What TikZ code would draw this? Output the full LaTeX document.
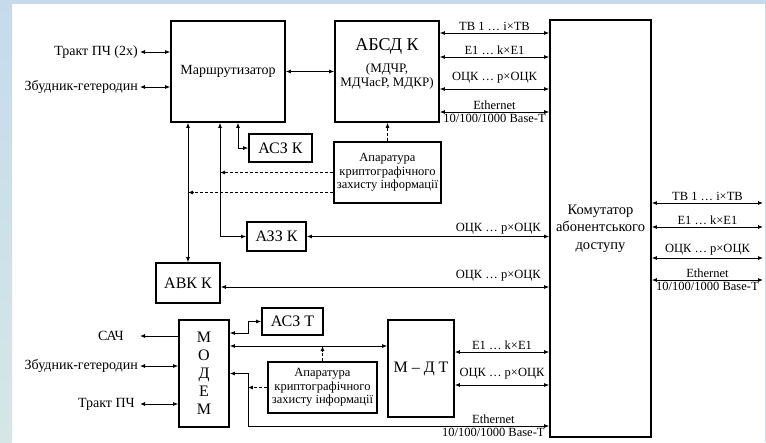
\documentclass[tikz,border=0pt]{standalone}
\usepackage{fontspec}
\setmainfont{Liberation Serif}
\usetikzlibrary{positioning, arrows.meta, calc}
\definecolor{bandblue}{RGB}{197,219,236}
\definecolor{bandgreen}{RGB}{213,230,229}

\begin{document}
\begin{tikzpicture}[x=1pt, y=-1pt,
  box/.style={rectangle, draw, line width=1.8pt, align=center, inner sep=1pt},
  lbl/.style={font=\fontsize{12.5}{13}\selectfont, inner sep=2pt},
  side/.style={font=\fontsize{14}{16}\selectfont, anchor=east, inner sep=2pt},
  big/.style={font=\fontsize{16}{18}\selectfont},
  crypt/.style={box, font=\fontsize{12.5}{13.5}\selectfont},
  dbl/.style={{Latex[length=5pt,width=4pt]}-{Latex[length=5pt,width=4pt]}, line width=0.8pt},
  arr/.style={-{Latex[length=5pt,width=4pt]}, line width=0.8pt},
  dsh/.style={-{Latex[length=5pt,width=4pt]}, line width=0.8pt, dash pattern=on 3pt off 2pt}
]
  % frame
  \useasboundingbox (0,0) rectangle (766,442);
  \fill[white] (0,0) rectangle (766,442);
  \fill[bandblue] (0,0) rectangle (766,4);
  \shade[top color=bandblue, bottom color=bandgreen] (0,0) rectangle (12,442);
  \fill[bandblue] (765,0) rectangle (766,442);

  % blocks
  \node[box, minimum width=114pt, minimum height=101pt, font=\fontsize{14}{16}\selectfont] (rout) at (228,71.5) {Маршрутизатор};
  \node[box, minimum width=104pt, minimum height=101pt] (absd) at (387,71.5) {};
  \node[font=\fontsize{18}{20}\selectfont] (absdname) at (387,46) {АБСД К};
  \node[align=center, font=\fontsize{13}{14}\selectfont] (absdsub) at (387,76) {(МДЧР,\\МДЧасР, МДКР)};
  \node[box, minimum width=101pt, minimum height=417pt, font=\fontsize{14.5}{17.5}\selectfont] (kom) at (600.5,228.5) {Комутатор\\абонентського\\доступу};
  \node[box, big, minimum width=63pt, minimum height=28pt] (asck) at (280.5,148) {АСЗ К};
  \node[crypt, minimum width=107pt, minimum height=61pt] (crypt1) at (387.5,172.5) {Апаратура\\криптографічного\\захисту інформації};
  \node[box, big, minimum width=59pt, minimum height=29pt] (azzk) at (276.5,236.5) {АЗЗ К};
  \node[box, big, minimum width=64pt, minimum height=40pt] (avkk) at (188,283) {АВК К};
  \node[box, big, minimum width=50pt, minimum height=107pt] (modem) at (204,373.5) {М\\О\\Д\\Е\\М};
  \node[box, big, minimum width=61pt, minimum height=27pt] (asct) at (292.5,321.5) {АСЗ Т};
  \node[box, big, minimum width=66pt, minimum height=97pt] (mdt) at (421,368.5) {М – Д Т};
  \node[crypt, minimum width=109pt, minimum height=51pt] (crypt2) at (322.5,387.5) {Апаратура\\криптографічного\\захисту інформації};

  % outside inputs
  \node[side] (tract1) at (140,52) {Тракт ПЧ (2x)};
  \node[side] (zbud1) at (140,87) {Збудник-гетеродин};
  \node[side] (sach) at (126,336) {САЧ};
  \node[side] (zbud2) at (140,366) {Збудник-гетеродин};
  \node[side] (tract2) at (137,404) {Тракт ПЧ};

  \coordinate (in1) at (494,33);
  \coordinate (in2) at (494,57);
  \coordinate (in3) at (494,89);
  \coordinate (in4) at (494,112);
  \coordinate (out1) at (763,203);
  \coordinate (out2) at (763,227);
  \coordinate (out3) at (763,258);
  \coordinate (out4) at (763,280);

  \draw[dbl] (tract1.east) -- (tract1.east -| rout.west);
  \draw[dbl] (zbud1.east) -- (zbud1.east -| rout.west);
  \draw[dbl] (rout.east) -- (absd.west);

  \draw[dbl] (in1 -| absd.east) -- (in1 -| kom.west) node[lbl, midway, above] {ТВ 1 … i×ТВ};
  \draw[dbl] (in2 -| absd.east) -- (in2 -| kom.west) node[lbl, midway, above] {E1 … k×E1};
  \draw[dbl] (in3 -| absd.east) -- (in3 -| kom.west) node[lbl, midway, above=3pt] {ОЦК … p×ОЦК};
  \draw[dbl] (in4 -| absd.east) -- (in4 -| kom.west) node[lbl, midway, above] {Ethernet}
    node[lbl, midway, below] {10/100/1000 Base-T};

  \draw[dbl] (out1 -| kom.east) -- (out1) node[lbl, midway, above] {ТВ 1 … i×ТВ};
  \draw[dbl] (out2 -| kom.east) -- (out2) node[lbl, midway, above] {E1 … k×E1};
  \draw[dbl] (out3 -| kom.east) -- (out3) node[lbl, midway, above] {ОЦК … p×ОЦК};
  \draw[dbl] (out4 -| kom.east) -- (out4) node[lbl, midway, above] {Ethernet}
    node[lbl, midway, below] {10/100/1000 Base-T};

  % under the router
  \coordinate (rv) at ([xshift=-8]rout.south);
  \draw[dbl] (avkk.north) -- (avkk.north |- rout.south);
  \draw[dbl] (rv) |- (azzk.west);
  \draw[dbl] ([xshift=10]rout.south) |- (asck.west);
  \coordinate (c1b) at ([yshift=-20]crypt1.west);
  \draw[dsh] (crypt1.west) -- (crypt1.west -| rv);
  \draw[dsh] (c1b) -- (c1b -| avkk.north);
  \draw[dsh] (crypt1.north) -- (crypt1.north |- absd.south);

  \draw[dbl] (azzk.east) -- (azzk.east -| kom.west)
    node[lbl, pos=1, above left=0pt and 6pt] {ОЦК … p×ОЦК};
  \coordinate (avo) at ([yshift=-4]avkk.east);
  \draw[dbl] (avo) -- (avo -| kom.west)
    node[lbl, pos=1, above left=3pt and 6pt] {ОЦК … p×ОЦК};

  % modem
  \draw[arr] (modem.west |- sach) -- ([xshift=14]sach.east);
  \draw[dbl] (zbud2.east) -- (zbud2.east -| modem.west);
  \draw[dbl, shorten <=3pt] (tract2.east) -- (tract2.east -| modem.west);

  \coordinate (mv) at ([xshift=18]modem.east);
  \coordinate (ml) at ([yshift=27.5]modem.east);
  \coordinate (me) at ([yshift=-52.5]mv);
  \draw[dbl] ([yshift=40.5]modem.east) -- ([yshift=40.5]mv) |- (asct.west);
  \draw[dbl] (ml) -- (ml -| mdt.west);
  \draw[dsh] (crypt2.north) -- (crypt2.north |- ml);
  \draw[dsh] (crypt2.west) -- (crypt2.west -| mv);
  \draw[dbl] (modem.east) -- (mv) -- (me) -- (me -| kom.west)
    node[lbl, pos=0.815, above] {Ethernet}
    node[lbl, pos=0.815, below] {10/100/1000 Base-T};

  \coordinate (d1) at ([yshift=16.5]mdt.east);
  \coordinate (d2) at ([yshift=-16.5]mdt.east);
  \draw[dbl] (d1) -- (d1 -| kom.west) node[lbl, midway, above] {E1 … k×E1};
  \draw[dbl] (d2) -- (d2 -| kom.west) node[lbl, midway, above=3pt] {ОЦК … p×ОЦК};
\end{tikzpicture}
\end{document}
